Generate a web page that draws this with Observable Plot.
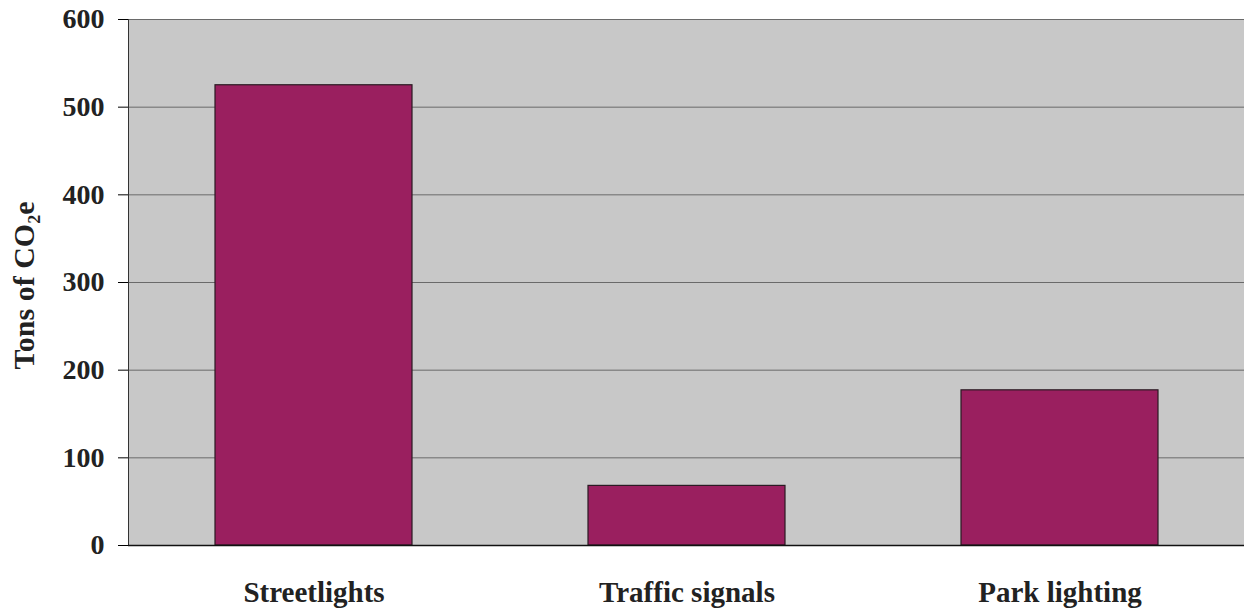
<!DOCTYPE html>
<html>
<head>
<meta charset="utf-8">
<script src="https://cdn.jsdelivr.net/npm/d3@7"></script>
<script src="https://cdn.jsdelivr.net/npm/@observablehq/plot@0.6"></script>
<style>
  html, body { margin: 0; padding: 0; background: #ffffff; }
  #chart { width: 1244px; height: 610px; }
  svg { font-family: "Liberation Serif", "DejaVu Serif", serif; }
</style>
</head>
<body>
<div id="chart"></div>
<script>
const categories = ["Streetlights", "Traffic signals", "Park lighting"];
const values = [525, 68, 177];
const yTicks = [0, 100, 200, 300, 400, 500, 600];

const data = categories.map((c, i) => ({category: c, value: values[i]}));

const chart = Plot.plot({
  width: 1244,
  height: 610,
  marginLeft: 128,
  marginRight: 0,
  marginTop: 19,
  marginBottom: 65,
  style: {fontFamily: "'Liberation Serif', serif", background: "#ffffff"},
  x: {domain: categories, paddingInner: 0.473, paddingOuter: 0.23, label: null},
  y: {domain: [0, 600], ticks: yTicks, label: null},
  marks: [
    Plot.frame({fill: "#c8c8c8", stroke: null}),
    Plot.gridY(yTicks, {stroke: "#6a6a6a", strokeOpacity: 1, strokeWidth: 1}),
    Plot.barY(data, {x: "category", y: "value", fill: "#9a1f5f", stroke: "#2a1a22", strokeWidth: 1.2}),
    Plot.frame({anchor: "left", stroke: "#333", strokeWidth: 1}),
    Plot.ruleY([0], {stroke: "#111", strokeWidth: 1.6}),
    Plot.axisY(yTicks, {tickSize: 10, tickPadding: 14, fontSize: 28, fontWeight: "bold", fill: "#222", label: null}),
    Plot.axisX({tickSize: 0, tickPadding: 36, fontSize: 29, fontWeight: "bold", fill: "#222", label: null}),
    Plot.text(["Tons of CO\u2082e"], {
      x: null, y: null,
      frameAnchor: "left", textAnchor: "middle", dx: -104, dy: 3, rotate: -90,
      fontSize: 30, fontWeight: "bold", fill: "#222"
    })
  ]
});
document.getElementById("chart").appendChild(chart);
</script>
</body>
</html>
